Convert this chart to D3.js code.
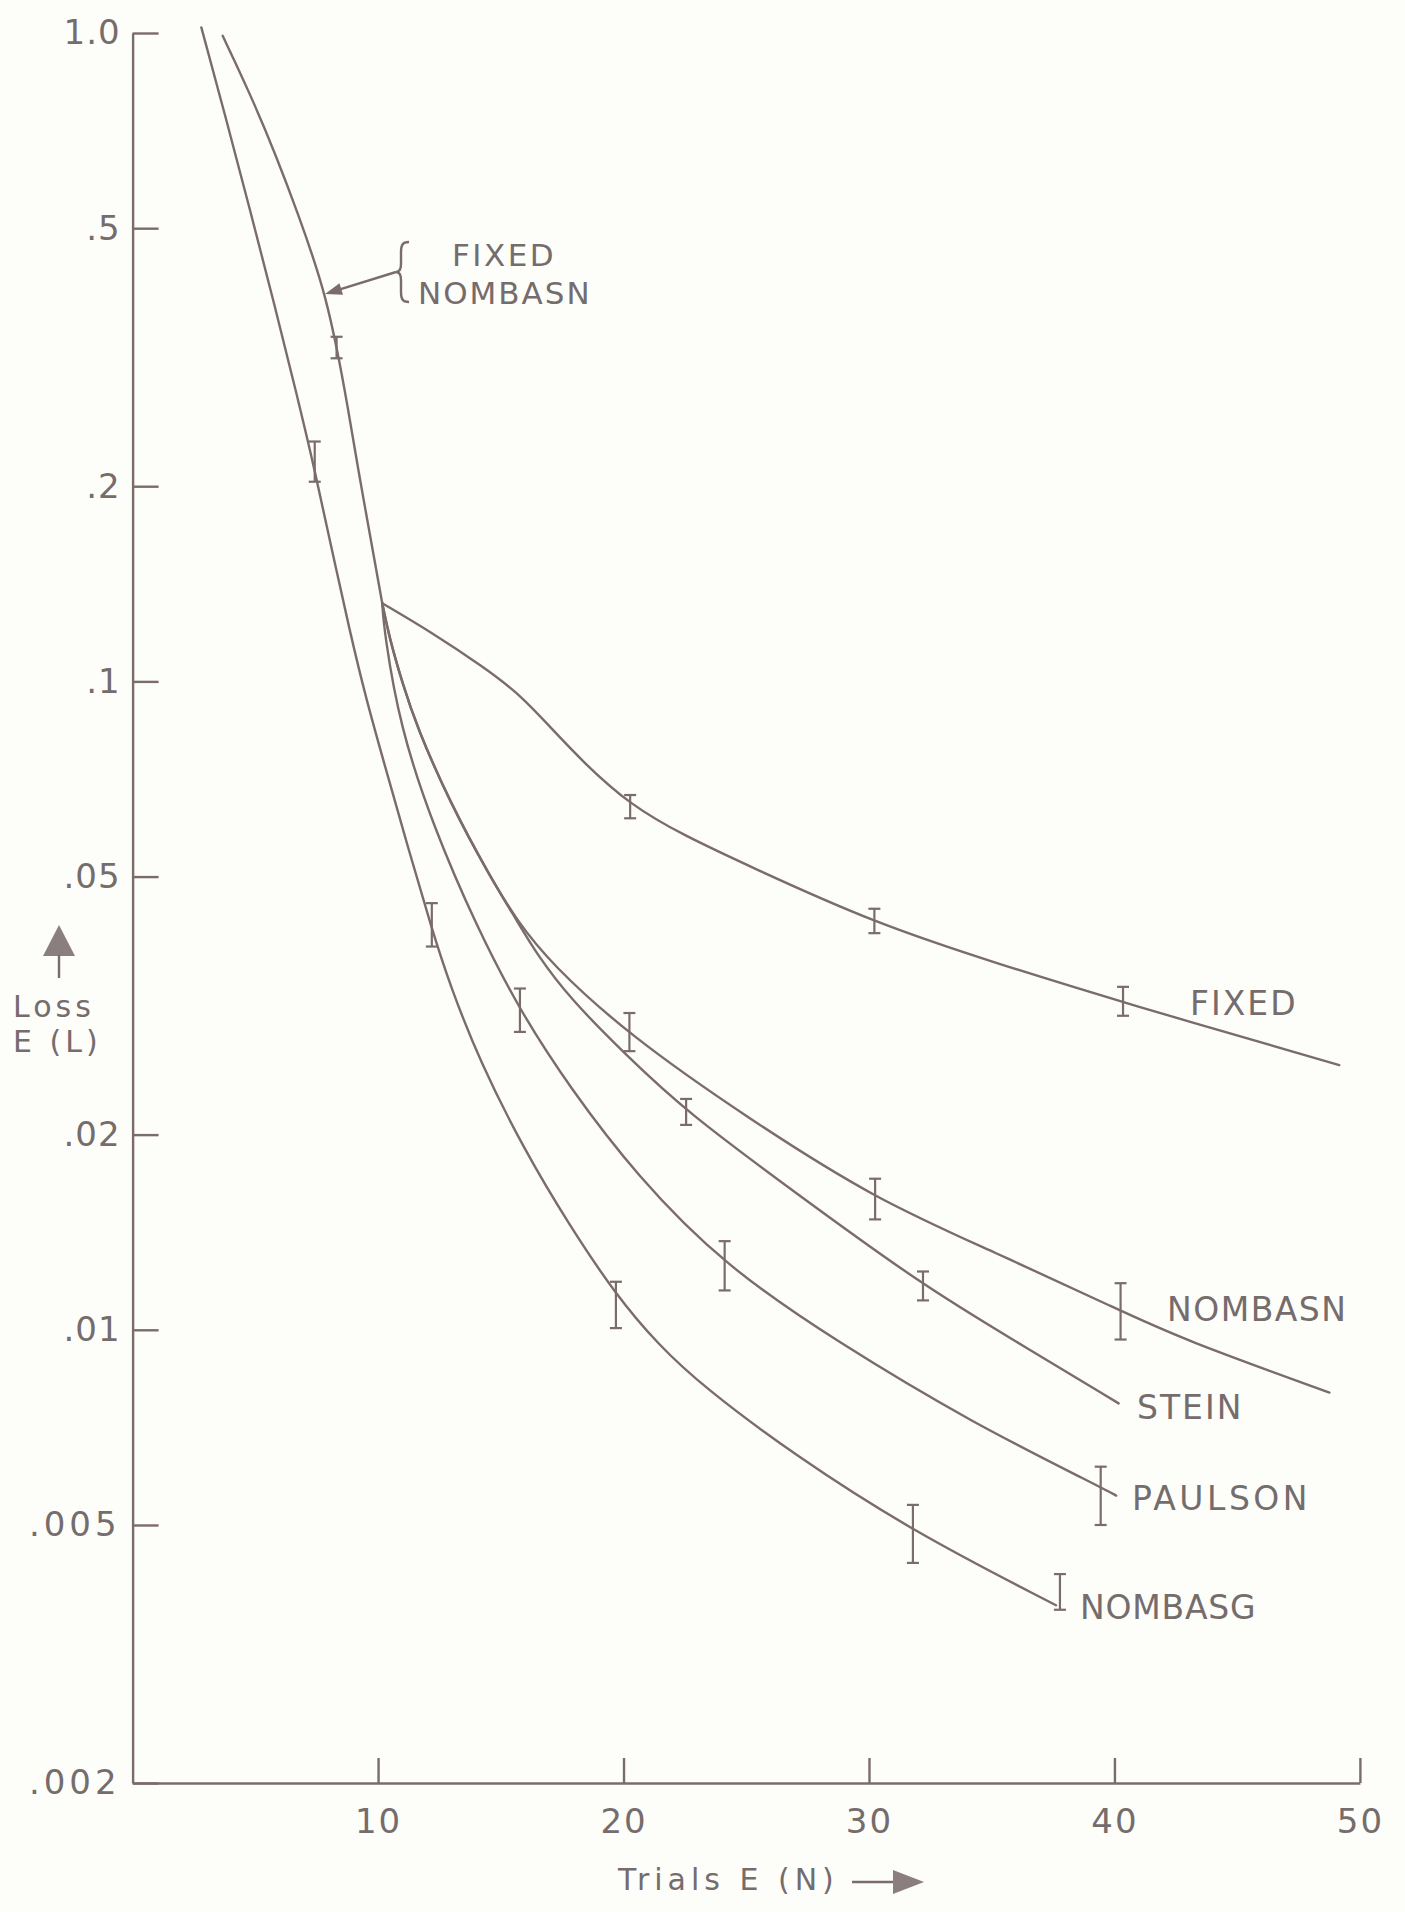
<!DOCTYPE html>
<html>
<head>
<meta charset="utf-8">
<script src="https://cdn.jsdelivr.net/npm/d3@7"></script>
<style>
  body { margin: 0; background: #fdfdfa; }
  svg { display: block; }
  text { font-family: "DejaVu Sans", sans-serif; fill: #756c6c; }
</style>
</head>
<body>
<svg id="chart" width="1405" height="1912"></svg>
<script>
// axis ticks
const xTicks = [10, 20, 30, 40, 50];
const yTicks = [1, 0.5, 0.2, 0.1, 0.05, 0.02, 0.01, 0.005, 0.002];
const yTickLabels = ['1.0', '.5', '.2', '.1', '.05', '.02', '.01', '.005', '.002'];

// common upper curve (FIXED + NOMBASN before they split)
const sharedN = [3.67, 4.78, 5.87, 6.82, 7.37, 7.84, 8.31, 8.76, 9.20, 9.70, 10.17];
const sharedL = [0.99, 0.807, 0.644, 0.516, 0.449, 0.394, 0.329, 0.266, 0.211, 0.166, 0.132];

const fixedN = [10.17, 12.25, 14.29, 15.65, 17.01, 18.36, 20.27, 22.44, 25.16, 30.22, 35.24, 40.31, 49.16];
const fixedL = [0.132, 0.1186, 0.1053, 0.0964, 0.0851, 0.0750, 0.0645, 0.0579, 0.0518, 0.0424, 0.0367, 0.0320, 0.0256];

const nombasnN = [10.17, 10.45, 10.99, 11.58, 12.93, 14.56, 15.65, 17.01, 20.25, 25.07, 30.25, 35.07, 40.26, 42.68, 48.76];
const nombasnL = [0.132, 0.1172, 0.0994, 0.0851, 0.0650, 0.0500, 0.0428, 0.0368, 0.0284, 0.0212, 0.0159, 0.0132, 0.0107, 0.0097, 0.0080];

const steinN = [10.17, 10.45, 10.99, 11.58, 12.93, 14.56, 15.65, 16.46, 17.79, 20.16, 22.56, 26.88, 32.20, 35.98, 40.17];
const steinL = [0.132, 0.1172, 0.0994, 0.0851, 0.0650, 0.0500, 0.0428, 0.0380, 0.0325, 0.0264, 0.0217, 0.0164, 0.0117, 0.0096, 0.0077];

const paulsonN = [10.17, 10.25, 10.89, 12.25, 14.02, 15.79, 17.79, 20.52, 24.12, 28.70, 34.16, 39.44, 40.07];
const paulsonL = [0.132, 0.1193, 0.0851, 0.0597, 0.0418, 0.0310, 0.0237, 0.0173, 0.01255, 0.00958, 0.0072, 0.00572, 0.00555];

const nombasgN = [2.8, 3.79, 4.78, 5.78, 6.67, 7.42, 8.11, 8.86, 9.50, 10.21, 11.17, 12.19, 12.93, 14.15, 15.97, 17.79, 19.70, 21.43, 23.25, 26.88, 31.80, 37.62];
const nombasgL = [1.02, 0.742, 0.534, 0.381, 0.279, 0.212, 0.160, 0.119, 0.0944, 0.0757, 0.0563, 0.0415, 0.0340, 0.0259, 0.0189, 0.0145, 0.0113, 0.00947, 0.00817, 0.00644, 0.00488, 0.00376];

// error bars: position, low, high
const sharedBarN = [8.31];
const sharedBarLo = [0.315];
const sharedBarHi = [0.340];
const fixedBarN = [20.27, 30.22, 40.35];
const fixedBarLo = [0.0615, 0.0409, 0.0305];
const fixedBarHi = [0.0668, 0.0446, 0.0338];
const nombasnBarN = [20.24, 30.25, 40.25];
const nombasnBarLo = [0.0269, 0.0148, 0.00966];
const nombasnBarHi = [0.0308, 0.0171, 0.0118];
const steinBarN = [22.55, 32.20];
const steinBarLo = [0.0207, 0.0111];
const steinBarHi = [0.0227, 0.0123];
const paulsonBarN = [15.78, 24.12, 39.44];
const paulsonBarLo = [0.0288, 0.0115, 0.0050];
const paulsonBarHi = [0.0336, 0.0137, 0.00615];
const nombasgBarN = [7.42, 12.19, 19.69, 31.79, 37.78];
const nombasgBarLo = [0.2032, 0.0390, 0.01006, 0.00437, 0.00370];
const nombasgBarHi = [0.2344, 0.0455, 0.01186, 0.00537, 0.00420];

const W = 1405, H = 1912;
const ink = '#7b6c6c';
const lw = 2.4;

const x = d3.scaleLinear().domain([0, 50]).range([132.6, 1359.9]);
const y = d3.scaleLog().domain([0.002, 1]).range([1783, 33]);

const svg = d3.select('#chart');
svg.append('rect').attr('width', W).attr('height', H).attr('fill', '#fdfdfa');

// axes
let yAxis = d3.axisLeft(y)
	.tickValues(yTicks)
	.tickFormat(d => yTickLabels[yTicks.indexOf(d)])
	.tickSize(-26)
	.tickSizeOuter(0)
	.tickPadding(12);
let gy = svg.append('g').attr('transform', 'translate(' + x(0) + ',0)').call(yAxis);

let xAxis = d3.axisBottom(x)
	.tickValues(xTicks)
	.tickSize(-25)
	.tickSizeOuter(0)
	.tickPadding(26);
let gx = svg.append('g').attr('transform', 'translate(0,' + y(0.002) + ')').call(xAxis);

[gx, gy].forEach(g => {
	g.select('.domain').attr('stroke', ink).attr('stroke-width', lw);
	g.selectAll('.tick line').attr('stroke', ink).attr('stroke-width', lw);
	g.selectAll('.tick text').style('font-size', '34px').attr('fill', '#756c6c');
});
gx.selectAll('.tick text').style('letter-spacing', '2px');
// the long tick labels are drawn a bit wider in the original
gy.selectAll('.tick text')
	.style('letter-spacing', d => yTickLabels[yTicks.indexOf(d)].length > 3 ? '4px' : '1px');

// curves (hand-drawn look: smooth b-spline through the read points)
let line = d3.line()
	.x(d => x(d[0]))
	.y(d => y(d[1]))
	.curve(d3.curveBasis);

let curves = [
	[sharedN, sharedL],
	[fixedN, fixedL],
	[nombasnN, nombasnL],
	[steinN, steinL],
	[paulsonN, paulsonL],
	[nombasgN, nombasgL]
];
svg.append('g').selectAll('path')
	.data(curves)
	.enter()
	.append('path')
	.attr('d', d => line(d3.zip(d[0], d[1])))
	.attr('fill', 'none')
	.attr('stroke', ink)
	.attr('stroke-width', lw)
	.attr('stroke-linecap', 'round');

// error bars
function drawBars(ns, lo, hi) {
	let g = svg.append('g').attr('stroke', ink).attr('stroke-width', 2.2);
	ns.forEach((n, i) => {
		let cx = x(n), y0 = y(lo[i]), y1 = y(hi[i]);
		g.append('line').attr('x1', cx).attr('x2', cx).attr('y1', y0).attr('y2', y1);
		g.append('line').attr('x1', cx - 6).attr('x2', cx + 6).attr('y1', y0).attr('y2', y0);
		g.append('line').attr('x1', cx - 6).attr('x2', cx + 6).attr('y1', y1).attr('y2', y1);
	});
}
drawBars(sharedBarN, sharedBarLo, sharedBarHi);
drawBars(fixedBarN, fixedBarLo, fixedBarHi);
drawBars(nombasnBarN, nombasnBarLo, nombasnBarHi);
drawBars(steinBarN, steinBarLo, steinBarHi);
drawBars(paulsonBarN, paulsonBarLo, paulsonBarHi);
drawBars(nombasgBarN, nombasgBarLo, nombasgBarHi);

// series labels (baseline positions)
let labels = [
	{ t: 'FIXED', x: 1190, y: 1015, fs: 33, ls: 2 },
	{ t: 'NOMBASN', x: 1167, y: 1321, fs: 33, ls: 1.5 },
	{ t: 'STEIN', x: 1137, y: 1419, fs: 33, ls: 2 },
	{ t: 'PAULSON', x: 1132, y: 1510, fs: 33, ls: 3.5 },
	{ t: 'NOMBASG', x: 1080, y: 1619, fs: 33, ls: 0.8 },
	{ t: 'FIXED', x: 452, y: 266, fs: 31, ls: 2.5 },
	{ t: 'NOMBASN', x: 418, y: 304, fs: 31, ls: 2 }
];
svg.append('g').selectAll('text')
	.data(labels)
	.enter()
	.append('text')
	.attr('x', d => d.x)
	.attr('y', d => d.y)
	.style('font-size', d => d.fs + 'px')
	.style('letter-spacing', d => d.ls + 'px')
	.text(d => d.t);

// brace + arrow pointing at the shared curve
svg.append('path')
	.attr('d', 'M409,242 C402,242 401,246 401,252 L401,264 C401,270 399,272 396,272 C399,272 401,274 401,280 L401,292 C401,298 402,302 409,302')
	.attr('fill', 'none').attr('stroke', ink).attr('stroke-width', 2.4);
let ax0 = 396, ay0 = 272, ax1 = 325, ay1 = 294;
let ang = Math.atan2(ay1 - ay0, ax1 - ax0);
svg.append('line').attr('x1', ax0).attr('y1', ay0)
	.attr('x2', ax1 - 8 * Math.cos(ang)).attr('y2', ay1 - 8 * Math.sin(ang))
	.attr('stroke', ink).attr('stroke-width', 2.4);
let hl = 17, hw = 6;
let bx = ax1 - hl * Math.cos(ang), by = ay1 - hl * Math.sin(ang);
svg.append('polygon')
	.attr('points', [
		[ax1, ay1],
		[bx + hw * Math.sin(ang), by - hw * Math.cos(ang)],
		[bx - hw * Math.sin(ang), by + hw * Math.cos(ang)]
	].map(p => p.join(',')).join(' '))
	.attr('fill', ink);

// axis titles
svg.append('text')
	.attr('x', 618).attr('y', 1890)
	.style('font-size', '30px').style('letter-spacing', '5px')
	.text('Trials E (N)');
svg.append('line').attr('x1', 852).attr('x2', 896).attr('y1', 1882).attr('y2', 1882)
	.attr('stroke', ink).attr('stroke-width', 2.4);
svg.append('polygon').attr('points', '893,1870 924,1882 893,1894').attr('fill', '#8a7e7e');

svg.append('polygon').attr('points', '43,956 59,925 75,956').attr('fill', '#8a7e7e');
svg.append('line').attr('x1', 59).attr('x2', 59).attr('y1', 955).attr('y2', 978)
	.attr('stroke', ink).attr('stroke-width', 2.4);
svg.append('text').attr('x', 13).attr('y', 1017)
	.style('font-size', '30px').style('letter-spacing', '4px').text('Loss');
svg.append('text').attr('x', 13).attr('y', 1052)
	.style('font-size', '30px').style('letter-spacing', '4px').text('E (L)');
</script>
</body>
</html>
